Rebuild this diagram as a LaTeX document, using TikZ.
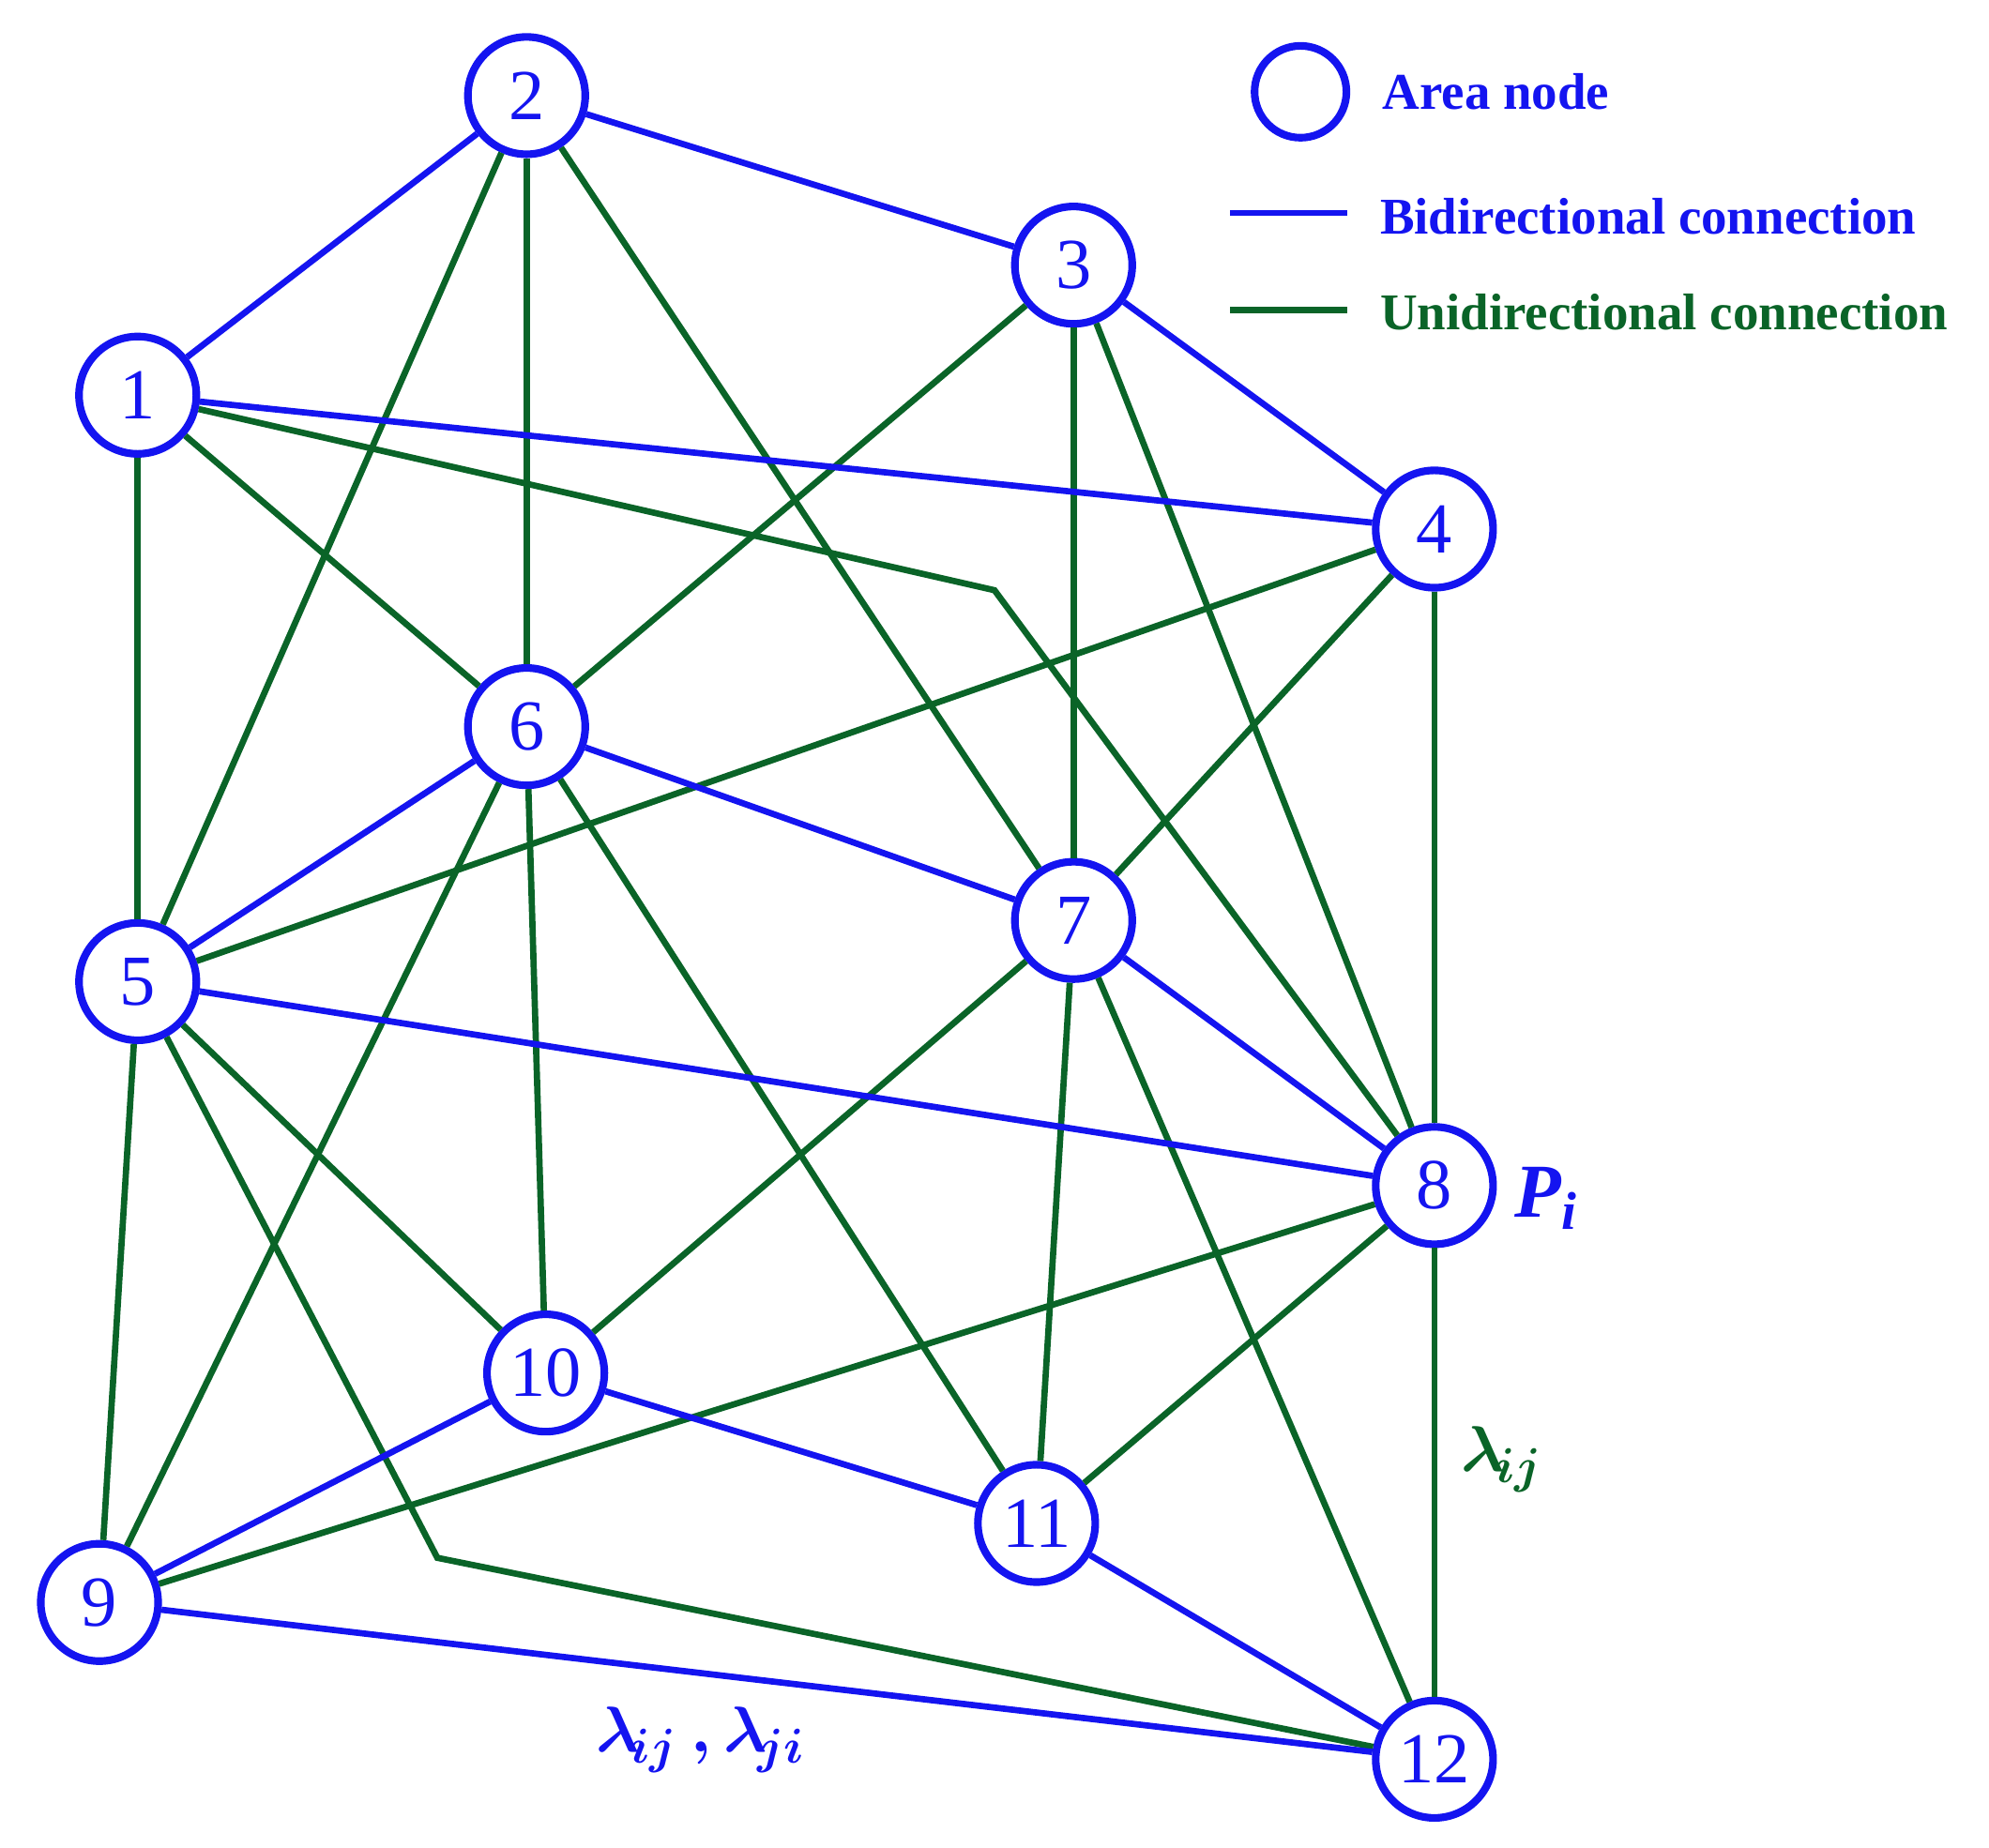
\documentclass[tikz,border=0pt]{standalone}
\usepackage{amsmath}
\usepackage{fontspec}
\setmainfont{Liberation Serif}
\definecolor{nblue}{RGB}{20,20,240}
\definecolor{ngreen}{RGB}{10,100,40}
\tikzset{
  area/.style={circle,draw=nblue,line width=1.7pt,minimum size=0.92cm,inner sep=0pt,text=nblue,font=\fontsize{16}{18}\selectfont},
  bi/.style={nblue,line width=1.4pt},
  uni/.style={ngreen,line width=1.4pt},
  lbl/.style={font=\fontsize{11.5}{14}\selectfont\bfseries}
}
\begin{document}
\begin{tikzpicture}[x=0.01cm,y=-0.01cm]
\useasboundingbox (0,0) rectangle (1560,1449);
\node[area] (n1) at (108,310) {1};
\node[area] (n2) at (413,75) {2};
\node[area] (n3) at (842,208) {3};
\node[area] (n4) at (1125,415) {4};
\node[area] (n5) at (108,770) {5};
\node[area] (n6) at (413,570) {6};
\node[area] (n7) at (842,722) {7};
\node[area] (n8) at (1125,930) {8};
\node[area] (n9) at (78,1257) {9};
\node[area] (n10) at (428,1077) {10};
\node[area] (n11) at (813,1195) {11};
\node[area] (n12) at (1125,1380) {12};
\coordinate (k1) at (780,463);
\coordinate (k2) at (343,1222);
% unidirectional
\draw[uni] (n2) -- (n5);
\draw[uni] (n2) -- (n6);
\draw[uni] (n2) -- (n7);
\draw[uni] (n1) -- (n6);
\draw[uni] (n1) -- (n5);
\draw[uni] (n1) -- (k1) -- (n8);
\draw[uni] (n3) -- (n6);
\draw[uni] (n3) -- (n7);
\draw[uni] (n3) -- (n8);
\draw[uni] (n4) -- (n5);
\draw[uni] (n4) -- (n7);
\draw[uni] (n4) -- (n8);
\draw[uni] (n6) -- (n9);
\draw[uni] (n6) -- (n10);
\draw[uni] (n6) -- (n11);
\draw[uni] (n5) -- (n10);
\draw[uni] (n5) -- (n9);
\draw[uni] (n5) -- (k2) -- (n12);
\draw[uni] (n7) -- (n10);
\draw[uni] (n7) -- (n11);
\draw[uni] (n7) -- (n12);
\draw[uni] (n8) -- (n9);
\draw[uni] (n8) -- (n11);
\draw[uni] (n8) -- (n12);
% bidirectional
\draw[bi] (n1) -- (n2);
\draw[bi] (n2) -- (n3);
\draw[bi] (n3) -- (n4);
\draw[bi] (n1) -- (n4);
\draw[bi] (n6) -- (n5);
\draw[bi] (n6) -- (n7);
\draw[bi] (n7) -- (n8);
\draw[bi] (n5) -- (n8);
\draw[bi] (n10) -- (n9);
\draw[bi] (n10) -- (n11);
\draw[bi] (n11) -- (n12);
\draw[bi] (n9) -- (n12);
% labels
\node[text=nblue,font=\fontsize{17}{20}\selectfont\bfseries\itshape] (pi) at (1213,940) {P\textsubscript{\itshape i}};
\node[text=ngreen] (lij) at (1178,1145) {\fontsize{15}{18}\selectfont$\boldsymbol{\lambda_{\!ij}}$};
\node[text=nblue] (lji) at (550,1365) {\fontsize{15}{18}\selectfont$\boldsymbol{\lambda_{\!ij}\,,\lambda_{\!ji}}$};
% legend
\node[circle,draw=nblue,line width=1.7pt,minimum size=0.72cm] (leg0) at (1020,72) {};
\node[lbl,text=nblue,anchor=west] (leg1) at (1072,72) {Area node};
\coordinate (la) at (965,167);
\coordinate (lb) at (1057,167);
\draw[bi] (la) -- (lb);
\node[lbl,text=nblue,anchor=west] (leg2) at (1070,170) {Bidirectional connection};
\coordinate (lc) at (965,243);
\coordinate (ld) at (1057,243);
\draw[uni] (lc) -- (ld);
\node[lbl,text=ngreen,anchor=west] (leg3) at (1070,245) {Unidirectional connection};
\end{tikzpicture}
\end{document}
